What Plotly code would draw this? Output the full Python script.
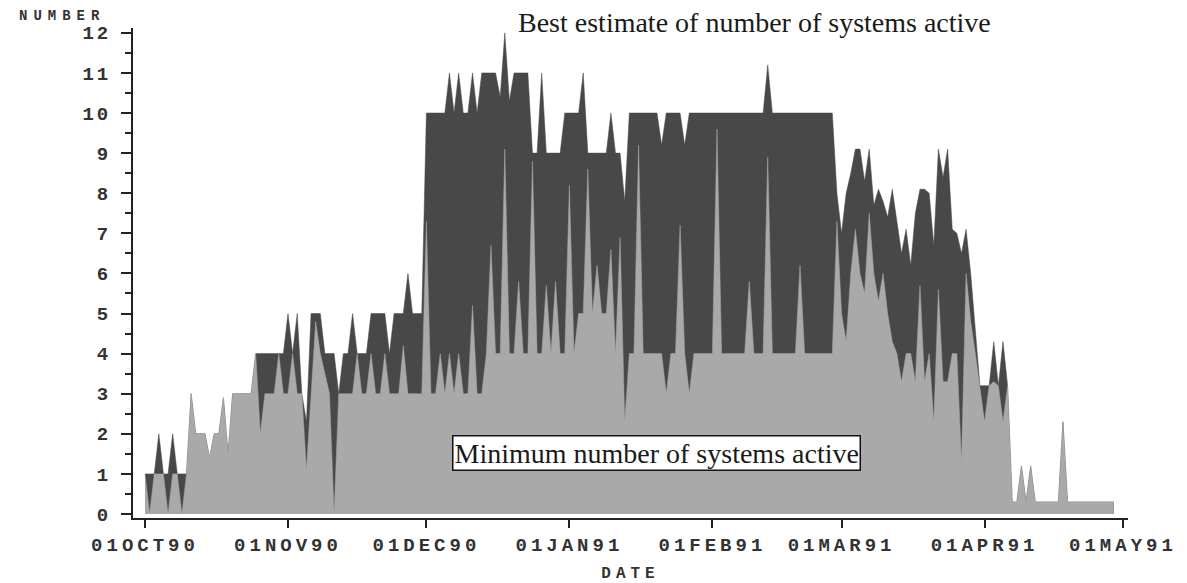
import plotly.graph_objects as go
import pandas as pd

start_date = "1990-10-01"

# Best estimate of number of systems active (daily, from 01OCT90)
best = [
    # Oct
    1, 1, 1, 2, 1, 1, 2, 1, 1, 1,
    3, 2, 2, 2, 1.4, 2, 2, 2.9, 1.5, 3, 3, 3, 3, 3, 4,
    4, 4, 4, 4, 4, 4,
    # Nov
    5, 4, 5, 3, 2.3, 5, 5, 5, 4, 4, 4,
    3, 4, 4, 5, 4, 4, 4, 5, 5, 5, 5, 4, 5, 5, 5, 6, 5, 5, 5,
    # Dec
    10, 10, 10, 10, 10, 11, 10, 11, 10, 10, 11, 10, 11, 11, 11, 11,
    10.4, 12, 10.3, 11, 11, 11, 11, 9, 9, 11, 9, 9, 9, 9, 10,
    # Jan
    10, 10, 10, 11, 9, 9, 9, 9, 9, 10, 9, 9, 7.8, 10, 10, 10,
    10, 10, 10, 10, 9.2, 10, 10, 10, 10, 9.2, 10, 10, 10, 10, 10,
    # Feb
    10, 10, 10, 10, 10, 10, 10, 10, 10, 10, 10, 10, 11.2, 10,
    10, 10, 10, 10, 10, 10, 10, 10, 10, 10, 10, 10, 10, 8,
    # Mar
    7, 8, 8.5, 9.1, 9.1, 8.3, 9.1, 7.7, 8.1, 7.8, 7.4, 8.1, 7.3, 6.5, 7.1, 6.2,
    7.5, 8.1, 8.1, 8, 6.7, 9.1, 8.4, 9.1, 7.1, 7, 6.5, 7.1, 6, 4.5, 3.2,
    # Apr
    3.2, 3.2, 4.3, 3.2, 4.3, 3.2, 0.3, 0.3, 1.2, 0.3, 1.2,
    0.3, 0.3, 0.3, 0.3, 0.3, 0.3, 2.3,
    0.3, 0.3, 0.3, 0.3, 0.3, 0.3, 0.3, 0.3, 0.3, 0.3, 0.3,
]

# Minimum number of systems active (daily, from 01OCT90)
minimum = [
    # Oct
    1, 0, 1, 1, 1, 0, 1, 1, 0, 1,
    3, 2, 2, 2, 1.4, 2, 2, 2.9, 1.5, 3, 3, 3, 3, 3, 4,
    2, 3, 3, 3, 4, 3,
    # Nov
    3, 4, 3, 3, 1.1, 3, 4.8, 4, 3.5, 3, 0,
    3, 3, 3, 3, 4, 3, 3, 4, 3, 3, 4, 3, 3, 3, 4.2, 3, 3, 3, 3,
    # Dec
    7.3, 3, 3, 4, 3, 4, 3, 4, 3, 3, 5.2, 3, 3, 4, 6.7, 4,
    4, 9.1, 4, 4, 5.8, 4, 4, 8.8, 4, 4, 5.7, 4, 5.8, 4, 4,
    # Jan
    8.2, 4, 5, 5, 8.6, 5, 6.2, 5, 5, 6.6, 4, 6.9, 2.3, 4, 4, 9.2,
    4, 4, 4, 4, 4, 3, 4, 4, 7.2, 4, 3, 4, 4, 4, 4,
    # Feb
    4, 9.6, 4, 4, 4, 4, 4, 4, 5.8, 4, 4, 4, 8.9, 4,
    4, 4, 4, 4, 4, 6.2, 4, 4, 4, 4, 4, 4, 4, 7.3,
    # Mar
    5, 4.3, 6, 7.1, 6, 5.5, 7.5, 6, 5.3, 6, 5, 4.3, 4, 3.3, 4, 4,
    3.3, 5.7, 3.3, 4, 2.3, 5.6, 3.3, 3.3, 4, 4, 1.3, 6, 4.8, 4, 3.2,
    # Apr
    2.3, 3.2, 3.3, 3.2, 2.3, 3.2, 0.3, 0.3, 1.2, 0.3, 1.2,
    0.3, 0.3, 0.3, 0.3, 0.3, 0.3, 2.3,
    0.3, 0.3, 0.3, 0.3, 0.3, 0.3, 0.3, 0.3, 0.3, 0.3, 0.3,
]

x_tick_dates = ["1990-10-01", "1990-11-01", "1990-12-01", "1991-01-01",
                "1991-02-01", "1991-03-01", "1991-04-01", "1991-05-01"]
x_tick_labels = ["01OCT90", "01NOV90", "01DEC90", "01JAN91",
                 "01FEB91", "01MAR91", "01APR91", "01MAY91"]
y_ticks = [0, 1, 2, 3, 4, 5, 6, 7, 8, 9, 10, 11, 12]

dates = pd.date_range(start_date, periods=len(best), freq="D")

DARK = "#484848"
LIGHT = "#a9a9a9"
MONO = "Liberation Mono, Courier New, monospace"
SERIF = "Liberation Serif, Times New Roman, serif"


def spaced(s, px):
    return f'<span style="letter-spacing:{px}px">{s}</span>'


fig = go.Figure()
fig.add_trace(go.Scatter(
    x=dates, y=best, mode="lines", fill="tozeroy",
    line=dict(color=DARK, width=0.5), fillcolor=DARK,
    hoverinfo="skip", showlegend=False,
))
fig.add_trace(go.Scatter(
    x=dates, y=minimum, mode="lines", fill="tozeroy",
    line=dict(color=LIGHT, width=0.5), fillcolor=LIGHT,
    hoverinfo="skip", showlegend=False,
))

fig.update_layout(
    width=1187, height=583,
    margin=dict(l=133, r=59, t=28, b=65),
    paper_bgcolor="white", plot_bgcolor="white",
    font=dict(family=MONO, color="#333333"),
    xaxis=dict(
        type="date", automargin=False,
        range=["1990-09-28 09:36", "1991-05-02 02:24"],
        tickmode="array", tickvals=x_tick_dates,
        ticktext=[spaced(t, 4) for t in x_tick_labels],
        tickfont=dict(family=MONO, size=19, color="#333333", weight="bold"),
        ticks="outside", ticklen=8, tickwidth=2, tickcolor="#222222",
        showline=True, linecolor="#222222", linewidth=2,
        showgrid=False, zeroline=False,
        title=dict(text=spaced("DATE", 5),
                   font=dict(family=MONO, size=16, color="#333333", weight="bold"),
                   standoff=14),
    ),
    yaxis=dict(
        range=[-0.1, 12.12], automargin=False,
        tickmode="array", tickvals=y_ticks,
        ticktext=[spaced(str(v), 3) for v in y_ticks],
        tickfont=dict(family=MONO, size=19, color="#333333", weight="bold"),
        ticks="outside", ticklen=10, tickwidth=2, tickcolor="#222222",
        ticklabelstandoff=6,
        minor=dict(tickmode="linear", tick0=0, dtick=0.5, ticks="outside",
                   ticklen=6, tickwidth=2, tickcolor="#222222"),
        showline=True, linecolor="#222222", linewidth=2,
        showgrid=False, zeroline=False,
    ),
)

fig.add_annotation(
    xref="paper", yref="paper", x=-0.0714, y=1.024,
    text=spaced("NUMBER", 6), showarrow=False,
    font=dict(family=MONO, size=14, color="#333333", weight="bold"),
    xanchor="center", yanchor="middle",
)
fig.add_annotation(
    xref="paper", yref="paper", x=0.625, y=1.012,
    text="Best estimate of number of systems active", showarrow=False,
    font=dict(family=SERIF, size=28, color="#1a1a1a"),
    xanchor="center", yanchor="middle",
)
fig.add_annotation(
    xref="paper", yref="paper", x=0.5266, y=0.1327,
    text="Minimum number of systems active", showarrow=False,
    font=dict(family=SERIF, size=28, color="#1a1a1a"),
    bgcolor="white", bordercolor="#111111", borderwidth=1.5, borderpad=1,
    xanchor="center", yanchor="middle",
)

fig.write_html("out.html")
